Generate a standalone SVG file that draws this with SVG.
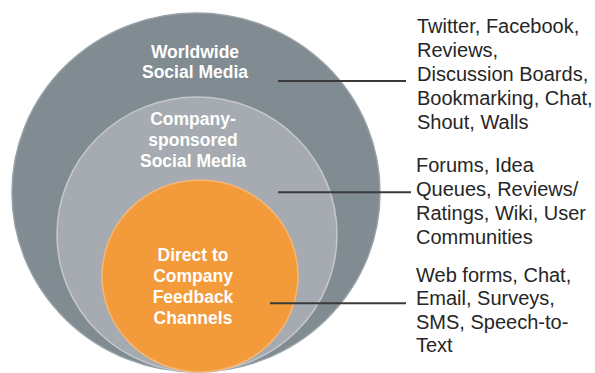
<svg xmlns="http://www.w3.org/2000/svg" width="595" height="373" viewBox="0 0 595 373">
<style>
.lbl{font-family:"Liberation Sans",Arial,sans-serif;font-size:17.5px;font-weight:bold;fill:#ffffff;text-anchor:middle}
.side{font-family:"Liberation Sans",Arial,sans-serif;font-size:20px;fill:#262626}
.con{stroke:#3a3a3a;stroke-width:2;fill:none}
</style>
<rect width="595" height="373" fill="#ffffff"/>
<g id="worldwide">
<ellipse cx="196" cy="192.5" rx="184" ry="179.5" fill="#808b92" stroke="#98a1a7" stroke-width="1.5"/>
<text class="lbl" x="195" y="57.7">Worldwide</text>
<text class="lbl" x="195" y="77.5">Social Media</text>
</g>
<g id="company">
<ellipse cx="197" cy="234.5" rx="140" ry="137.5" fill="#a5abb0" stroke="#c4c8cb" stroke-width="1.5"/>
<text class="lbl" x="193" y="125">Company-</text>
<text class="lbl" x="193" y="146">sponsored</text>
<text class="lbl" x="193" y="167">Social Media</text>
</g>
<g id="direct">
<ellipse cx="200" cy="276" rx="98" ry="96" fill="#f39a3a" stroke="#f6b676" stroke-width="1.5"/>
<text class="lbl" x="193" y="261">Direct to</text>
<text class="lbl" x="193" y="282">Company</text>
<text class="lbl" x="193" y="303">Feedback</text>
<text class="lbl" x="193" y="323.5">Channels</text>
</g>
<g id="connectors">
<line class="con" x1="278" y1="81" x2="406" y2="81"/>
<line class="con" x1="278" y1="192.3" x2="411" y2="192.3"/>
<line class="con" x1="270" y1="303.3" x2="406" y2="303.3"/>
</g>
<g id="list1">
<text class="side" x="417" y="32.5">Twitter, Facebook,</text>
<text class="side" x="417" y="56.5">Reviews,</text>
<text class="side" x="417" y="80.5">Discussion Boards,</text>
<text class="side" x="417" y="104.5">Bookmarking, Chat,</text>
<text class="side" x="417" y="128.5">Shout, Walls</text>
</g>
<g id="list2">
<text class="side" x="416" y="172">Forums, Idea</text>
<text class="side" x="416" y="196">Queues, Reviews/</text>
<text class="side" x="416" y="220">Ratings, Wiki, User</text>
<text class="side" x="416" y="243.5">Communities</text>
</g>
<g id="list3">
<text class="side" x="416" y="282">Web forms, Chat,</text>
<text class="side" x="416" y="305.3">Email, Surveys,</text>
<text class="side" x="416" y="328.6">SMS, Speech-to-</text>
<text class="side" x="416" y="352">Text</text>
</g>
</svg>
